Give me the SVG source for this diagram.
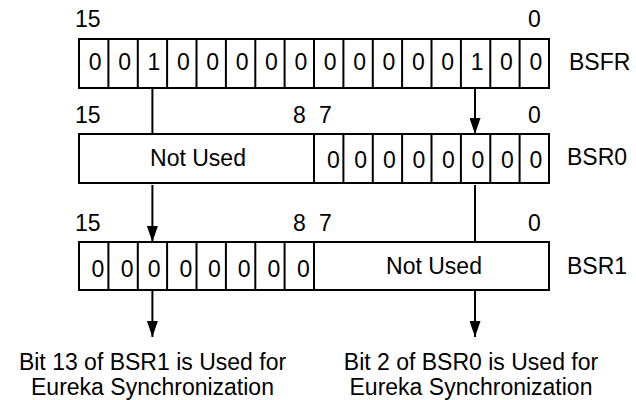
<svg xmlns="http://www.w3.org/2000/svg" width="636" height="400" viewBox="0 0 636 400">
  <style>
    text { font-family: "Liberation Sans", Arial, sans-serif; font-size: 23px; fill: #000; }
    .mid { text-anchor: middle; }
    .box { fill: #fff; stroke: #000; stroke-width: 2; }
    .sep { fill: none; stroke: #000; stroke-width: 2; }
    .wire { fill: none; stroke: #000; stroke-width: 2; }
  </style>
  <defs>
    <marker id="arrow" markerUnits="userSpaceOnUse" markerWidth="16" markerHeight="11" refX="16" refY="5.5" orient="auto">
      <path d="M0,0 L16,5.5 L0,11 Z" fill="#000"/>
    </marker>
  </defs>
  <rect width="636" height="400" fill="#fff"/>

  <!-- connectors (drawn first so the register boxes cover them) -->
  <g id="connectors">
    <line class="wire" x1="152.4" y1="88" x2="152.4" y2="134"/>
    <line class="wire" x1="152.4" y1="185" x2="152.4" y2="242" marker-end="url(#arrow)"/>
    <line class="wire" x1="152.4" y1="290" x2="152.4" y2="337" marker-end="url(#arrow)"/>
    <line class="wire" x1="475" y1="88" x2="475" y2="134" marker-end="url(#arrow)"/>
    <line class="wire" x1="475" y1="185" x2="475" y2="242"/>
    <line class="wire" x1="475" y1="290" x2="475" y2="337" marker-end="url(#arrow)"/>
  </g>

  <!-- BSFR: 16 bit flag register -->
  <g id="bsfr">
    <text x="75" y="27">15</text>
    <text class="mid" x="534.3" y="27">0</text>
    <rect class="box" x="79" y="39" width="470" height="49"/>
    <path class="sep" d="M108.4,39V88M137.8,39V88M167.1,39V88M196.5,39V88M225.9,39V88M255.3,39V88M284.6,39V88M314,39V88M343.4,39V88M372.8,39V88M402.1,39V88M431.5,39V88M460.9,39V88M490.3,39V88M519.6,39V88"/>
    <g class="mid">
      <text class="mid" x="95.2" y="70">0</text>
      <text class="mid" x="124.6" y="70">0</text>
      <text class="mid" x="153.9" y="70">1</text>
      <text class="mid" x="183.3" y="70">0</text>
      <text class="mid" x="212.7" y="70">0</text>
      <text class="mid" x="242.1" y="70">0</text>
      <text class="mid" x="271.4" y="70">0</text>
      <text class="mid" x="300.8" y="70">0</text>
      <text class="mid" x="330.2" y="70">0</text>
      <text class="mid" x="359.6" y="70">0</text>
      <text class="mid" x="388.9" y="70">0</text>
      <text class="mid" x="418.3" y="70">0</text>
      <text class="mid" x="447.7" y="70">0</text>
      <text class="mid" x="477.1" y="70">1</text>
      <text class="mid" x="506.4" y="70">0</text>
      <text class="mid" x="535.8" y="70">0</text>
    </g>
    <text x="569" y="69.5">BSFR</text>
  </g>

  <!-- BSR0: upper byte unused, lower byte holds the bits -->
  <g id="bsr0">
    <text x="75" y="122.5">15</text>
    <text class="mid" x="299.3" y="122.5">8</text>
    <text class="mid" x="325.5" y="122.5">7</text>
    <text class="mid" x="534.3" y="122.5">0</text>
    <rect class="box" x="79" y="134" width="470" height="49"/>
    <path class="sep" d="M314,134V183M343.4,134V183M372.8,134V183M402.1,134V183M431.5,134V183M460.9,134V183M490.3,134V183M519.6,134V183"/>
    <text class="mid" x="198" y="165.5">Not Used</text>
    <text class="mid" x="333.5" y="168">0</text>
    <text class="mid" x="360.6" y="168">0</text>
    <text class="mid" x="389.4" y="168">0</text>
    <text class="mid" x="419" y="168">0</text>
    <text class="mid" x="448.3" y="168">0</text>
    <text class="mid" x="477.8" y="168">0</text>
    <text class="mid" x="507.3" y="168">0</text>
    <text class="mid" x="536" y="168">0</text>
    <text x="567" y="165">BSR0</text>
  </g>

  <!-- BSR1: upper byte holds the bits, lower byte unused -->
  <g id="bsr1">
    <text x="75" y="230.5">15</text>
    <text class="mid" x="299.3" y="230.5">8</text>
    <text class="mid" x="325.5" y="230.5">7</text>
    <text class="mid" x="534.3" y="230.5">0</text>
    <rect class="box" x="79" y="242" width="470" height="48"/>
    <path class="sep" d="M108.4,242V290M137.8,242V290M167.1,242V290M196.5,242V290M225.9,242V290M255.3,242V290M284.6,242V290M314,242V290"/>
    <text class="mid" x="98" y="276.5">0</text>
    <text class="mid" x="127.2" y="276.5">0</text>
    <text class="mid" x="154.2" y="276.5">0</text>
    <text class="mid" x="186" y="276.5">0</text>
    <text class="mid" x="214.4" y="276.5">0</text>
    <text class="mid" x="244.2" y="276.5">0</text>
    <text class="mid" x="273.8" y="276.5">0</text>
    <text class="mid" x="303.4" y="276.5">0</text>
    <text class="mid" x="434" y="273.5">Not Used</text>
    <text x="567" y="273.5">BSR1</text>
  </g>

  <!-- notes under the output arrows -->
  <g id="note-left">
    <text class="mid" x="152.5" y="370">Bit 13 of BSR1 is Used for</text>
    <text class="mid" x="152.5" y="395">Eureka Synchronization</text>
  </g>
  <g id="note-right">
    <text class="mid" x="471" y="370">Bit 2 of BSR0 is Used for</text>
    <text class="mid" x="471" y="395">Eureka Synchronization</text>
  </g>
</svg>
